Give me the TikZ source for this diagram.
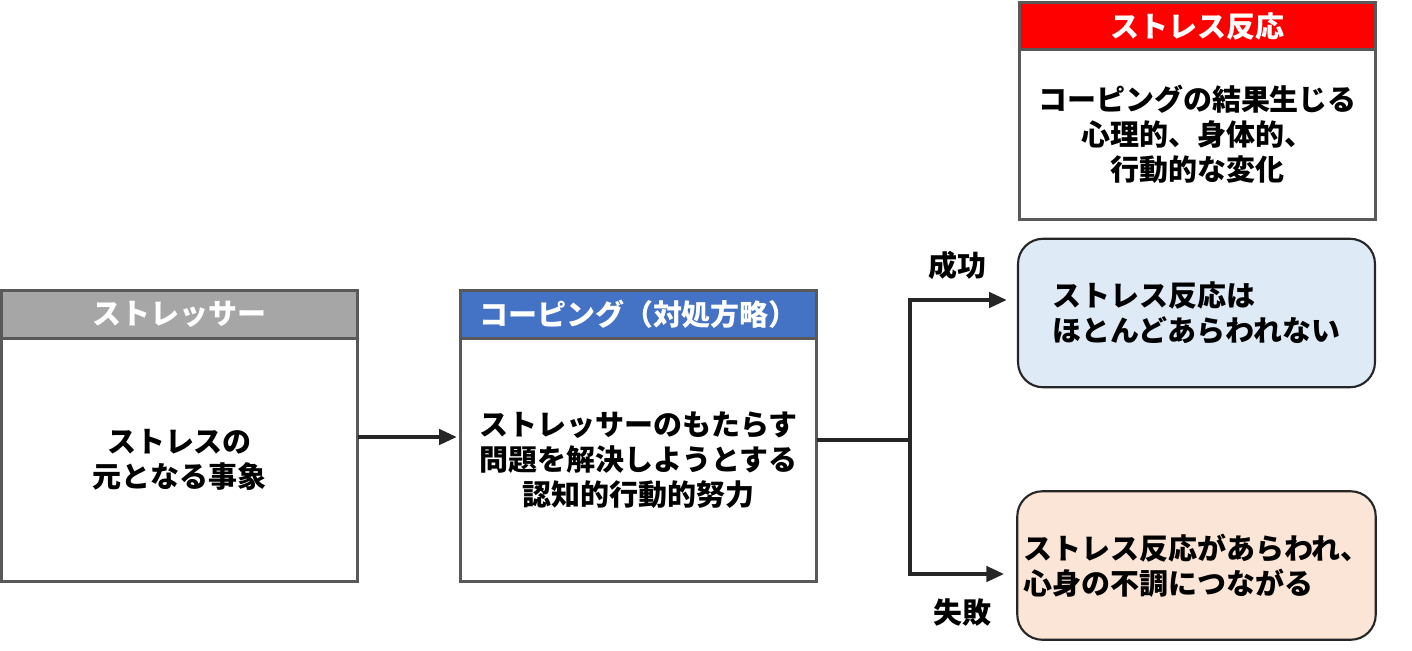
\documentclass[tikz,border=0pt]{standalone}
\usepackage{fontspec}
\setmainfont{Noto Sans CJK JP}
\usetikzlibrary{arrows.meta}
\usetikzlibrary{positioning}
\definecolor{mgray}{RGB}{166,166,166}
\definecolor{mblue}{RGB}{68,114,196}
\definecolor{mred}{RGB}{255,0,0}
\definecolor{mline}{RGB}{89,89,89}
\definecolor{mdark}{RGB}{38,38,38}
\definecolor{mpale}{RGB}{222,235,247}
\definecolor{mpeach}{RGB}{251,229,214}
\tikzset{jfont/.style = {font = \fontsize{16.5}{19.9}\selectfont\bfseries}}
\tikzset{head/.style = {draw = mline, line width = 1.7pt, outer sep = 0, inner sep = 0, minimum width = 7.14cm, minimum height = 0.95cm, text = white, jfont}}
\tikzset{body/.style = {draw = mline, line width = 1.7pt, outer sep = 0, inner sep = 0, fill = white, minimum width = 7.14cm, align = center, jfont}}
\tikzset{result/.style = {draw = mdark, line width = 1.2pt, outer sep = 0, rounded corners = 0.5cm, minimum width = 7.14cm, minimum height = 2.97cm, align = left, jfont}}
\tikzset{lbl/.style = {inner sep = 0, jfont}}
\tikzset{arr/.style = {draw = mdark, line width = 2.5pt, -{Triangle[length = 0.36cm, width = 0.3cm]}}}

\begin{document}
\begin{tikzpicture}[x = 0.02cm, y = -0.02cm]
    \useasboundingbox (0, 0) rectangle (1412, 650);
    \node [head, fill = mgray] (sh) at (179.5, 314.5) {ストレッサー};
    \node [body, minimum height = 4.86cm, below = 0pt of sh] (sb) {ストレスの\\元となる事象};
    \node [head, fill = mblue] (ch) at (638.5, 314.5) {コーピング（対処方略）};
    \node [body, minimum height = 4.86cm, below = 0pt of ch] (cb) {ストレッサーのもたらす\\問題を解決しようとする\\認知的行動的努力};
    \node [head, fill = mred] (rh) at (1197.5, 26) {ストレス反応};
    \node [body, minimum height = 3.4cm, below = 0pt of rh] (rb) {コーピングの結果生じる\\心理的、身体的、\\行動的な変化};
    \node [result, fill = mpale] (ok) at (1196.5, 313) {ストレス反応は\\ほとんどあらわれない};
    \node [result, fill = mpeach] (ng) at (1196.5, 565.5) {ストレス反応があらわれ、\\心身の不調につながる};
    \node [lbl] (succ) at (957, 265) {成功};
    \node [lbl] (fail) at (962, 612) {失敗};
    \coordinate (mid) at (400, 437);
    \coordinate (fork) at (910, 440);
    \coordinate (up) at (910, 300);
    \coordinate (down) at (910, 574);
    \draw [arr] (sb.east |- mid) -- ([xshift = -0.06cm]cb.west |- mid);
    \draw [arr] (cb.east |- fork) -| (up) -- ([xshift = -0.22cm]ok.west |- up);
    \draw [arr] (fork) |- ([xshift = -0.26cm]ng.west |- down);
\end{tikzpicture}
\end{document}
